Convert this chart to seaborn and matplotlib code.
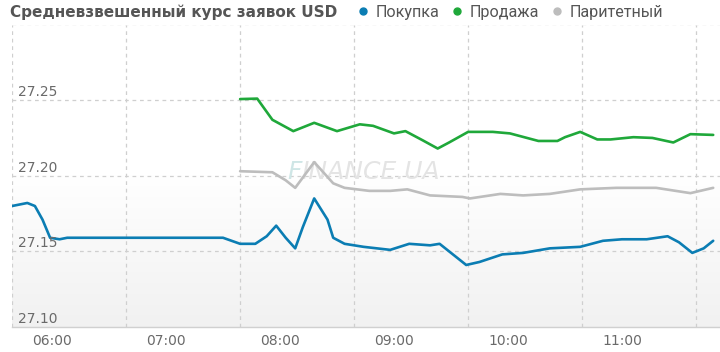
import numpy as np
import pandas as pd
import matplotlib
matplotlib.use("Agg")
import matplotlib.pyplot as plt
from matplotlib.lines import Line2D
import seaborn as sns

# ---- data ----
buy_times = ["05:39", "05:47", "05:51", "05:55", "05:59", "06:04", "06:08", "07:30",
             "07:39", "07:47", "07:53", "07:58", "08:03", "08:08", "08:12", "08:18",
             "08:25", "08:28", "08:34", "08:44", "08:58", "09:08", "09:19", "09:24",
             "09:38", "09:45", "09:57", "10:08", "10:22", "10:38", "10:50", "11:00",
             "11:13", "11:24", "11:30", "11:37", "11:43", "11:48"]
buy_vals = [27.180, 27.182, 27.180, 27.171, 27.159, 27.158, 27.159, 27.159,
            27.155, 27.155, 27.160, 27.167, 27.159, 27.152, 27.166, 27.185,
            27.171, 27.159, 27.155, 27.153, 27.151, 27.155, 27.154, 27.155,
            27.141, 27.143, 27.148, 27.149, 27.152, 27.153, 27.157, 27.158,
            27.158, 27.160, 27.156, 27.149, 27.152, 27.157]

sell_times = ["07:39", "07:48", "07:56", "08:07", "08:18", "08:30", "08:42", "08:49",
              "09:00", "09:06", "09:15", "09:23", "09:29", "09:39", "09:52", "10:01",
              "10:16", "10:26", "10:30", "10:38", "10:47", "10:54", "11:06", "11:16",
              "11:27", "11:36", "11:48"]
sell_vals = [27.2507, 27.251, 27.237, 27.2295, 27.235, 27.2295, 27.234, 27.233,
             27.228, 27.2295, 27.2235, 27.218, 27.222, 27.229, 27.229, 27.228,
             27.223, 27.223, 27.2255, 27.229, 27.224, 27.224, 27.2255, 27.225,
             27.222, 27.2275, 27.227]

par_times = ["07:39", "07:56", "08:03", "08:08", "08:18", "08:28", "08:34", "08:47",
             "08:58", "09:07", "09:19", "09:36", "09:40", "09:56", "10:08", "10:22",
             "10:38", "10:57", "11:18", "11:36", "11:48"]
par_vals = [27.203, 27.2023, 27.197, 27.192, 27.209, 27.195, 27.192, 27.190,
            27.190, 27.191, 27.187, 27.186, 27.185, 27.188, 27.187, 27.188,
            27.191, 27.192, 27.192, 27.1885, 27.192]

series_names = ["Покупка", "Продажа", "Паритетный"]
series_colors = ["#0b7db3", "#1fa83a", "#bdbdbd"]
x_tick_labels = ["06:00", "07:00", "08:00", "09:00", "10:00", "11:00"]
y_ticks = [27.10, 27.15, 27.20, 27.25]
title = "Средневзвешенный курс заявок USD"


def to_hours(s):
    h, m = s.split(":")
    return int(h) + int(m) / 60.0


frames = []
for name, times, vals in zip(series_names, [buy_times, sell_times, par_times],
                             [buy_vals, sell_vals, par_vals]):
    frames.append(pd.DataFrame({"t": [to_hours(t) for t in times],
                                "value": vals, "series": name}))
df = pd.concat(frames, ignore_index=True)

# ---- figure ----
sns.set_style("white")
plt.rcParams["font.family"] = ["DejaVu Sans"]

W, H = 720, 352
fig = plt.figure(figsize=(W / 100, H / 100), dpi=100)
ax = fig.add_axes([12 / W, (H - 327) / H, (720 - 12) / W, (327 - 24.5) / H])

x_left = 6 + (12 - 52) / 114.0
x_right = 6 + (720 - 52) / 114.0
ax.set_xlim(x_left, x_right)
ax.set_ylim(27.10, 27.30)
px_y = 0.05 / 75.5  # value per pixel

# background gradient: white above 27.20, light grey toward bottom
yy = np.linspace(0, 1, 256)
shade = np.where(yy > 0.5, 1.0, 1.0 - (0.5 - yy) / 0.5 * 0.055)
grad = np.dstack([shade, shade, shade]).reshape(256, 1, 3)[::-1]
ax.imshow(grad, extent=[0, 1, 0, 1], transform=ax.transAxes, aspect="auto",
          zorder=0, interpolation="bilinear")

# grids
grid_x = [x_left + k for k in range(7)]
for gx in grid_x:
    ax.axvline(gx, color="#cfcfcf", lw=0.9, ls=(0, (3, 3)), zorder=1)
for gy in [27.15, 27.20, 27.25, 27.30]:
    ax.axhline(gy, color="#cfcfcf", lw=0.9, ls=(0, (3, 3)), zorder=1)

sns.lineplot(data=df, x="t", y="value", hue="series", hue_order=series_names,
             palette=series_colors, estimator=None, sort=True, lw=1.9,
             legend=False, ax=ax, zorder=3)
for ln in ax.get_lines():
    ln.set_solid_joinstyle("round")
    ln.set_solid_capstyle("round")

# watermark
wm_y = 27.25 - (172 - 100) * px_y
ax.text(6 + (287 - 52) / 114.0, wm_y, "F", color="#cfe6e6", fontsize=18,
        fontstyle="italic", va="center", ha="left", zorder=2)
ax.text(6 + (301 - 52) / 114.0, wm_y, "INANCE.UA", color="#e4e4e4", fontsize=18,
        fontstyle="italic", va="center", ha="left", zorder=2)

# y labels inside plot
for yv in y_ticks:
    ax.text(6 + (18 - 52) / 114.0, yv + 4 * px_y, f"{yv:.2f}", color="#6a6a6a",
            fontsize=10, ha="left", va="baseline", zorder=4)
ax.set_yticks([])
ax.set_ylabel("")
ax.set_xlabel("")

# x ticks
ax.set_xticks([6, 7, 8, 9, 10, 11])
ax.set_xticklabels(x_tick_labels, color="#6a6a6a", fontsize=10)
ax.tick_params(axis="x", which="major", length=0, pad=5)
ax.set_xticks(grid_x, minor=True)
ax.tick_params(axis="x", which="minor", length=6, color="#cfcfcf", width=0.9,
               direction="out")

for s in ["top", "right", "left"]:
    ax.spines[s].set_visible(False)
ax.spines["bottom"].set_color("#d0d0d0")
ax.spines["bottom"].set_linewidth(1.0)

# title and legend
fig.text(10 / W, 1 - 12 / H, title, fontsize=11, fontweight="bold",
         color="#555555", ha="left", va="center", family=["DejaVu Sans"])
handles = [Line2D([], [], marker="o", ls="none", color=c, markersize=5)
           for c in series_colors]
fig.legend(handles, series_names, loc="center left",
           bbox_to_anchor=(357 / W, 1 - 12 / H), ncol=3, frameon=False,
           handlelength=0.7, handletextpad=0.45, columnspacing=0.75,
           borderaxespad=0, borderpad=0,
           prop={"family": ["Roboto", "DejaVu Sans"], "size": 11.6},
           labelcolor="#555555")

fig.savefig("out.png", dpi=100)
